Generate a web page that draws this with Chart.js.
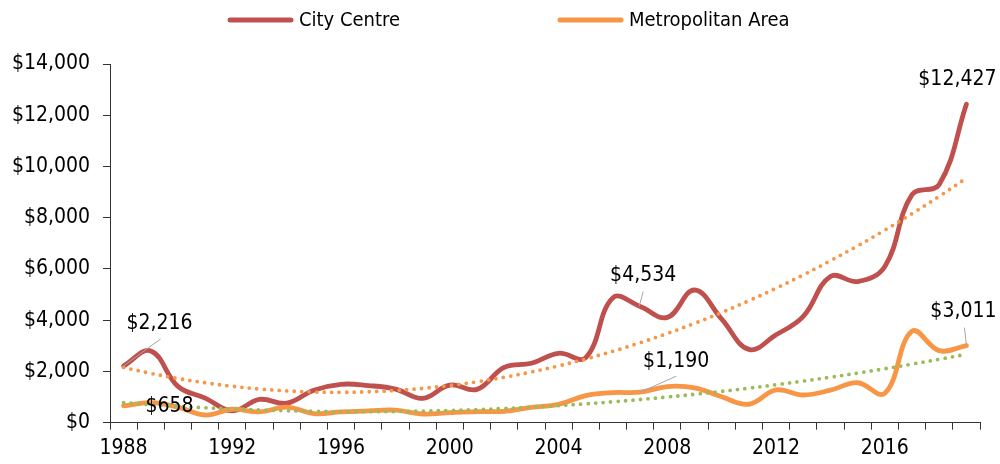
<!DOCTYPE html>
<html>
<head>
<meta charset="utf-8">
<script src="https://cdn.jsdelivr.net/npm/chart.js@4.4.1/dist/chart.umd.min.js"></script>
<style>
  html, body { margin: 0; padding: 0; background: #fff; }
  #wrap { width: 1000px; height: 464px; }
</style>
</head>
<body>
<div id="wrap"><canvas id="chart" width="1000" height="464"></canvas></div>
<script>
const years = ['1988', '1989', '1990', '1991', '1992', '1993', '1994', '1995',
    '1996', '1997', '1998', '1999', '2000', '2001', '2002', '2003',
    '2004', '2005', '2006', '2007', '2008', '2009', '2010', '2011',
    '2012', '2013', '2014', '2015', '2016', '2017', '2018', '2019'];

const cityCentre = [2216, 2800, 1420, 960, 460, 910, 760, 1270,
    1500, 1450, 1310, 950, 1470, 1300, 2160, 2320,
    2710, 2540, 4880, 4534, 4110, 5180, 4040, 2860,
    3430, 4150, 5710, 5510, 6100, 8900, 9300, 12427];

const metroArea = [658, 780, 610, 300, 525, 420, 610, 355,
    420, 460, 490, 340, 390, 430, 445, 600,
    718, 1060, 1175, 1190, 1410, 1360, 1010, 720,
    1277, 1082, 1270, 1560, 1150, 3570, 2812, 3011];

// dotted trend lines
const cityTrend = [2156, 1926, 1726, 1558, 1422, 1316, 1242, 1199,
    1187, 1207, 1258, 1340, 1453, 1598, 1773, 1980,
    2219, 2488, 2789, 3121, 3484, 3879, 4304, 4761,
    5250, 5769, 6324, 6902, 7519, 8160, 8835, 9546];

const metroTrend = [781, 706, 640, 583, 535, 496, 466, 445,
    434, 431, 437, 453, 478, 512, 554, 606,
    667, 737, 816, 905, 1002, 1109, 1224, 1348,
    1482, 1625, 1776, 1937, 2107, 2287, 2474, 2672];

const FONT = "'DejaVu Sans Condensed', 'DejaVu Sans', sans-serif";
const INK = '#000';
const AXIS = '#333';

const money = v => '$' + Number(v).toLocaleString('en-US');

// value callouts: dataset, year index, text offset from point, leader line offsets
const callouts = [
    { ds: 0, i: 0,  tx: 36, ty: -42, leader: [0, 0, 37, -27] },
    { ds: 1, i: 0,  tx: 46, ty: 1,   leader: null },
    { ds: 0, i: 19, tx: 3,  ty: -31, leader: [-1, 0, 3, -15] },
    { ds: 1, i: 19, tx: 36, ty: -31, leader: [0, 0, 36, -16] },
    { ds: 1, i: 31, tx: -3, ty: -34, leader: [0, -1, -2, -18] },
    { ds: 0, i: 31, tx: -9, ty: -25, leader: null }
];

const calloutPlugin = {
    id: 'callouts',
    afterDatasetsDraw(chart) {
        const ctx = chart.ctx;
        const x = chart.scales.x, y = chart.scales.y;
        ctx.save();
        callouts.forEach(c => {
            const v = chart.data.datasets[c.ds].data[c.i];
            const px = x.getPixelForValue(c.i);
            const py = y.getPixelForValue(v);
            if (c.leader) {
                ctx.strokeStyle = '#A6A6A6';
                ctx.lineWidth = 1;
                ctx.beginPath();
                ctx.moveTo(px + c.leader[0], py + c.leader[1]);
                ctx.lineTo(px + c.leader[2], py + c.leader[3]);
                ctx.stroke();
            }
            ctx.fillStyle = INK;
            ctx.font = '21px ' + FONT;
            ctx.textAlign = 'center';
            ctx.textBaseline = 'middle';
            ctx.fillText(money(v), px + c.tx, py + c.ty);
        });
        ctx.restore();
    }
};

// legend for the two main series
const legendPlugin = {
    id: 'topLegend',
    afterDraw(chart) {
        const ctx = chart.ctx;
        const starts = [228, 558];
        const cy = 20;
        ctx.save();
        ctx.font = '20px ' + FONT;
        ctx.textBaseline = 'middle';
        ctx.textAlign = 'left';
        [0, 1].forEach((d, k) => {
            const ds = chart.data.datasets[d];
            ctx.strokeStyle = ds.borderColor;
            ctx.lineWidth = 5;
            ctx.lineCap = 'round';
            ctx.beginPath();
            ctx.moveTo(starts[k] + 2, cy);
            ctx.lineTo(starts[k] + 63, cy);
            ctx.stroke();
            ctx.fillStyle = INK;
            ctx.fillText(ds.label, starts[k] + 71, cy + 1);
        });
        ctx.restore();
    }
};

new Chart(document.getElementById('chart'), {
    type: 'line',
    data: {
        labels: years,
        datasets: [{
            label: 'City Centre',
            data: cityCentre,
            borderColor: '#C0504D',
            borderWidth: 4.8,
            borderCapStyle: 'round',
            tension: 0.4,
            pointRadius: 0,
            order: 3
        }, {
            label: 'Metropolitan Area',
            data: metroArea,
            borderColor: '#F79646',
            borderWidth: 4.8,
            borderCapStyle: 'round',
            tension: 0.4,
            pointRadius: 0,
            order: 2
        }, {
            label: 'City Centre trend',
            data: cityTrend,
            borderColor: '#F79646',
            borderWidth: 3.8,
            borderDash: [0, 7.5],
            borderCapStyle: 'round',
            tension: 0.4,
            pointRadius: 0,
            order: 1
        }, {
            label: 'Metropolitan Area trend',
            data: metroTrend,
            borderColor: '#9BBB59',
            borderWidth: 3.8,
            borderDash: [0, 7.5],
            borderCapStyle: 'round',
            tension: 0.4,
            pointRadius: 0,
            order: 0
        }]
    },
    options: {
        responsive: false,
        animation: false,
        devicePixelRatio: 1,
        layout: {
            padding: { top: 64, right: 20, left: 0, bottom: 0 }
        },
        scales: {
            x: {
                type: 'category',
                offset: true,
                grid: {
                    offset: true,
                    drawOnChartArea: false,
                    drawTicks: true,
                    tickLength: 7,
                    color: AXIS
                },
                border: { color: AXIS, width: 1 },
                ticks: {
                    autoSkip: false,
                    maxRotation: 0,
                    padding: 6,
                    color: INK,
                    font: { family: FONT, size: 21 },
                    callback: (v, i) => (i % 4 === 0 ? years[i] : '')
                },
                afterFit(scale) { scale.height = 41.3; }
            },
            y: {
                min: 0,
                max: 14000,
                grid: {
                    drawOnChartArea: false,
                    drawTicks: true,
                    tickLength: 7,
                    color: AXIS
                },
                border: { color: AXIS, width: 1 },
                ticks: {
                    stepSize: 2000,
                    padding: 13,
                    color: INK,
                    font: { family: FONT, size: 21 },
                    callback: v => money(v)
                },
                afterFit(scale) { scale.width = 110; }
            }
        },
        plugins: {
            legend: { display: false },
            tooltip: { enabled: false }
        }
    },
    plugins: [calloutPlugin, legendPlugin]
});
</script>
</body>
</html>
